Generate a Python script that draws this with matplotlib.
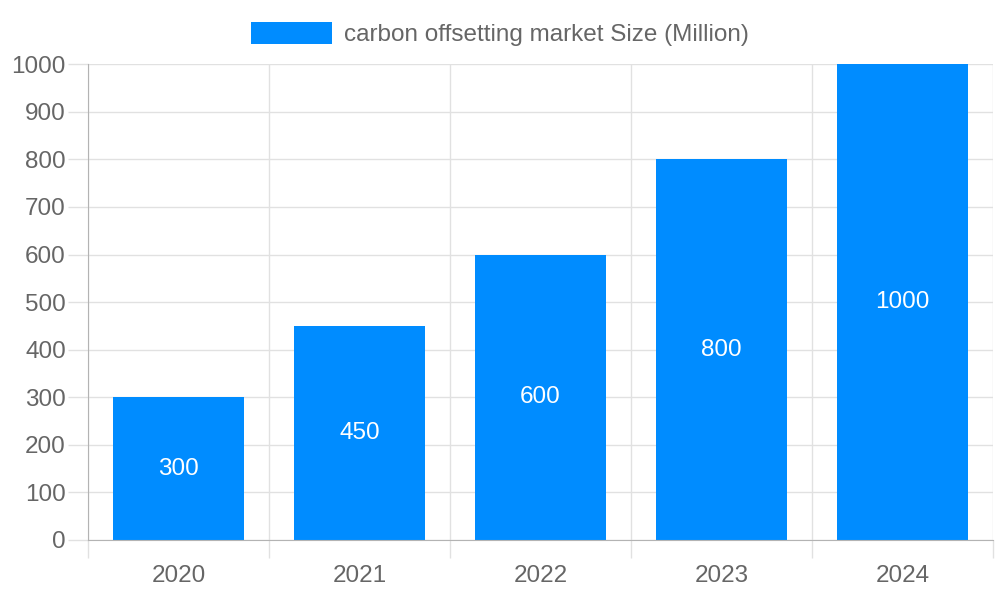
import matplotlib.pyplot as plt
import numpy as np

plt.rcParams['font.family'] = ['Liberation Sans', 'DejaVu Sans']

# Data
years = ['2020', '2021', '2022', '2023', '2024']
market_size = [300, 450, 600, 800, 1000]
series_label = 'carbon offsetting market Size (Million)'

bar_color = '#008CFF'
grid_color = '#e1e1e1'
axis_color = '#b3b3b3'
text_color = '#666666'
fs = 17.5

fig = plt.figure(figsize=(10, 6), dpi=100)
ax = fig.add_axes([0.088, 0.1, 0.905, 0.793])

x = np.arange(len(years))
bars = ax.bar(x, market_size, width=0.72, color=bar_color, label=series_label, zorder=3)

ax.set_xlim(-0.5, len(years) - 0.5)
ax.set_ylim(0, 1000)
ax.set_yticks(np.arange(0, 1001, 100))

# category labels centered, grid lines on category boundaries
ax.set_xticks(x)
ax.set_xticklabels(years)
ax.set_xticks(np.arange(-0.5, len(years), 1), minor=True)
ax.tick_params(axis='x', which='major', length=0, pad=18, labelsize=fs, labelcolor=text_color)
ax.tick_params(axis='x', which='minor', length=13, width=1, color=grid_color)
ax.tick_params(axis='y', length=14.4, width=1, color=grid_color, pad=1.5, labelsize=fs, labelcolor=text_color)

ax.grid(True, axis='y', color=grid_color, linewidth=1, zorder=0)
ax.grid(True, axis='x', which='minor', color=grid_color, linewidth=1, zorder=0)

for side in ['top', 'right']:
    ax.spines[side].set_visible(False)
ax.spines['left'].set_color(axis_color)
ax.spines['bottom'].set_color(axis_color)
ax.spines['left'].set_zorder(4)
ax.spines['bottom'].set_zorder(4)

for rect, val in zip(bars, market_size):
    ax.text(rect.get_x() + rect.get_width() / 2, val / 2, str(val),
            ha='center', va='center', color='white', fontsize=fs, zorder=5)

leg = fig.legend(loc='upper center', bbox_to_anchor=(0.5, 1.0), frameon=False,
                 handlelength=3.3, handleheight=1.0, handletextpad=0.5,
                 fontsize=fs, labelcolor=text_color)

fig.savefig('out.png', dpi=100)
